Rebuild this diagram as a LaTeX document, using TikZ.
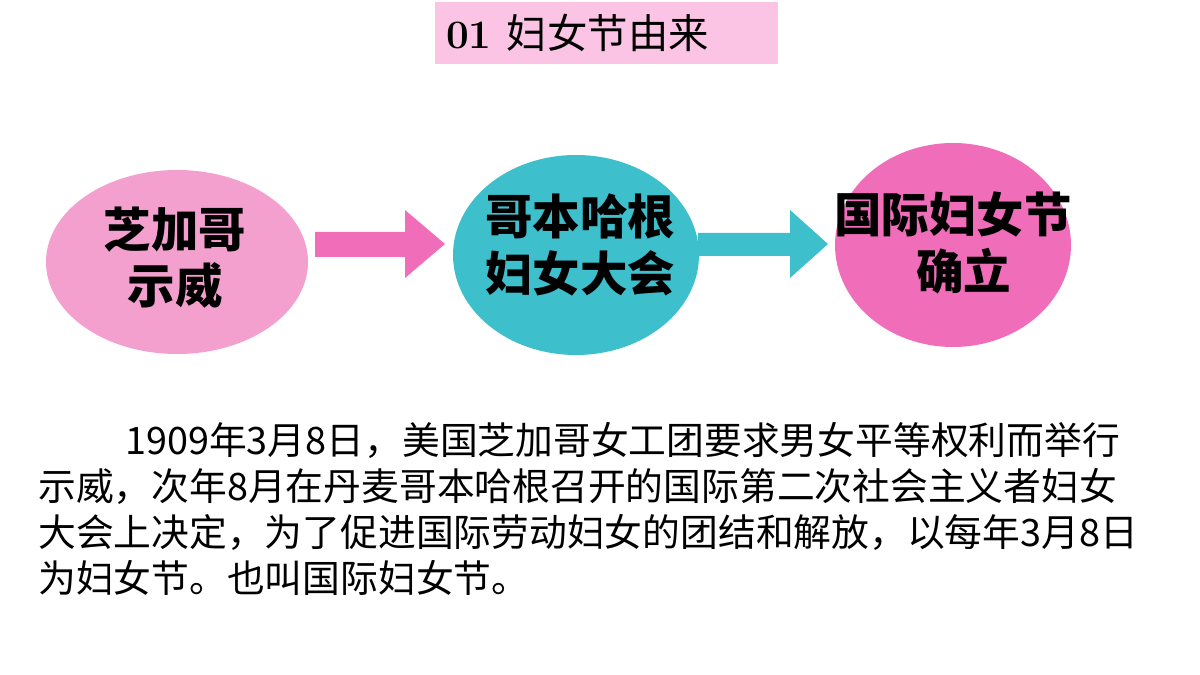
\documentclass[tikz,border=0pt]{standalone}
\usepackage{fontspec}
\newfontfamily\cjk{Noto Sans CJK SC}
\definecolor{tpink}{RGB}{251,196,228}
\definecolor{lpink}{RGB}{244,160,207}
\definecolor{teal2}{RGB}{61,191,204}
\definecolor{hpink}{RGB}{240,110,185}
\begin{document}
\begin{tikzpicture}[x=0.02cm,y=-0.02cm,
  lbl/.style={font=\cjk\bfseries\fontsize{27}{32}\selectfont,align=center},
  para/.style={anchor=west,font=\cjk\fontsize{21.5}{26}\selectfont,inner sep=0pt}]
\useasboundingbox (0,0) rectangle (1200,675);
\fill[tpink] (435,2) rectangle (778,64);
\node[anchor=west] (title) at (440,33) {\fontsize{23}{27}\selectfont\bfseries 01 {\cjk\mdseries 妇女节由来}};
\fill[lpink] (177,262) ellipse [x radius=131,y radius=92];
\fill[teal2] (576,255) ellipse [x radius=123,y radius=100];
\fill[hpink] (953,245) ellipse [x radius=118,y radius=102];
\node[lbl] (a) at (175,258) {芝加哥\\示威};
\node[lbl] (b) at (580,245) {哥本哈根\\妇女大会};
\node[lbl] (c) at (953,243) {国际妇女节\\\ \ 确立};
\fill[hpink] (315,232)--(405,232)--(405,210)--(445,244)--(405,278)--(405,257)--(315,257)--cycle;
\fill[teal2] (698,233)--(790,233)--(790,210)--(828,244)--(790,278)--(790,256)--(698,256)--cycle;
\node[para] (l1) at (125,440) {1909年3月8日，美国芝加哥女工团要求男女平等权利而举行};
\node[para] (l2) at (38,486) {示威，次年8月在丹麦哥本哈根召开的国际第二次社会主义者妇女};
\node[para] (l3) at (38,532) {大会上决定，为了促进国际劳动妇女的团结和解放，以每年3月8日};
\node[para] (l4) at (38,578) {为妇女节。也叫国际妇女节。};
\end{tikzpicture}
\end{document}
